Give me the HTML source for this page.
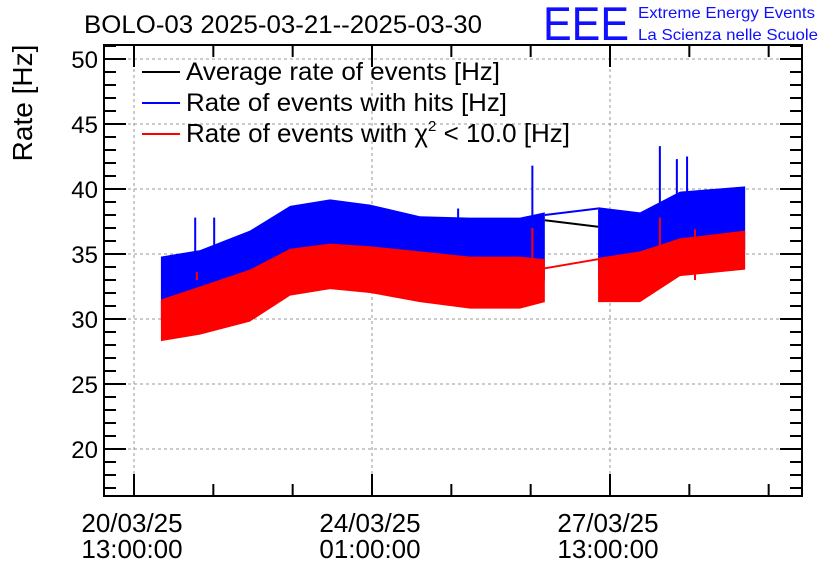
<!DOCTYPE html>
<html><head><meta charset="utf-8"><style>
body{margin:0;background:#fff;}
svg text{font-family:"Liberation Sans",sans-serif;}
</style></head><body>
<svg id="c" width="836" height="572" xmlns="http://www.w3.org/2000/svg">
<rect width="836" height="572" fill="#fff"/>
<text x="84" y="33" font-size="25" textLength="398" lengthAdjust="spacingAndGlyphs">BOLO-03 2025-03-21--2025-03-30</text>
<text x="543" y="40" font-size="47" fill="#1010ff" textLength="86" lengthAdjust="spacingAndGlyphs">EEE</text>
<text x="638" y="18" font-size="16" fill="#1010ff" textLength="177" lengthAdjust="spacingAndGlyphs">Extreme Energy Events</text>
<text x="638" y="40" font-size="16" fill="#1010ff" textLength="180" lengthAdjust="spacingAndGlyphs">La Scienza nelle Scuole</text>
<text transform="translate(32,103) rotate(-90)" text-anchor="middle" font-size="28">Rate [Hz]</text>
<g id="grid"></g><g id="data"></g><g id="axes"></g>
<g>
<line x1="142" y1="72" x2="180" y2="72" stroke="#000" stroke-width="2"/>
<text x="186" y="80" font-size="25" textLength="314" lengthAdjust="spacingAndGlyphs">Average rate of events [Hz]</text>
<line x1="142" y1="103" x2="180" y2="103" stroke="#00f" stroke-width="2"/>
<text x="186" y="111" font-size="25" textLength="321" lengthAdjust="spacingAndGlyphs">Rate of events with hits [Hz]</text>
<line x1="142" y1="134" x2="180" y2="134" stroke="#f00" stroke-width="2"/>
<text x="186" y="142" font-size="26">Rate of events with χ<tspan font-size="15" dy="-11">2</tspan><tspan dy="11"> &lt; 10.0 [Hz]</tspan></text>
</g>
</svg>
<script>
const hours=[9.5,23.3,40.9,55.1,69.2,83.3,100.9,118.6,136.2,145,163.8,178.6,192.7,215.7];
const blueTop=[34.8,35.3,36.8,38.7,39.2,38.8,37.9,37.8,37.8,38.2,38.6,38.2,39.8,40.2];
const redTop=[31.5,32.5,33.8,35.4,35.8,35.6,35.2,34.8,34.8,34.6,34.7,35.2,36.2,36.8];
const redBottom=[28.3,28.8,29.8,31.8,32.3,32.0,31.3,30.8,30.8,31.3,31.3,31.3,33.3,33.8];
const avgGap=[37.6,37.1];
const blueGap=[38.0,38.5];
const redGap=[33.9,34.6];
const blueSpikeH=[21.6,28.3,114.4,140.6,185.6,191.6,195.2];
const blueSpikeV=[37.8,37.8,38.5,41.8,43.3,42.3,42.5];
const redSpikeH=[22.2,140.6,185.6,198.0];
const redSpikeV=[33.6,37.0,37.8,36.9];
const yTicks=[20,25,30,35,40,45,50];
const xTickLabels=[["20/03/25","13:00:00"],["24/03/25","01:00:00"],["27/03/25","13:00:00"]];
const xMajorHours=[0,84,168];

const L=104,R=802,T=45,B=496;
const X=h=>134+h*238/84;
const Y=v=>449-(v-20)*13;
const NS="http://www.w3.org/2000/svg";
function mk(p,tag,at){const e=document.createElementNS(NS,tag);for(const k in at)e.setAttribute(k,at[k]);p.appendChild(e);return e;}
const grid=document.getElementById('grid'),data=document.getElementById('data'),axes=document.getElementById('axes');
yTicks.forEach(v=>{const l=mk(grid,'line',{x1:L,x2:R,y1:Y(v),y2:Y(v),stroke:'#999','stroke-dasharray':'3,3','stroke-width':1});

});
xMajorHours.forEach(h=>{const l=mk(grid,'line',{x1:X(h),x2:X(h),y1:T,y2:B,stroke:'#999','stroke-dasharray':'3,3','stroke-width':1});

});
function band(top,bot,i0,i1,col,name){let pts=[];for(let i=i0;i<=i1;i++)pts.push(X(hours[i])+','+Y(top[i]));for(let i=i1;i>=i0;i--)pts.push(X(hours[i])+','+Y(bot[i]));
const p=mk(data,'polygon',{points:pts.join(' '),fill:col});

}
const blueBot=redTop.map((v,i)=>(v+redBottom[i])/2);
const gi=9;
band(blueTop,blueBot,0,gi,'#0000ff','hits-band-1');band(blueTop,blueBot,gi+1,hours.length-1,'#0000ff','hits-band-2');
blueSpikeH.forEach((h,i)=>{const l=mk(data,'line',{x1:X(h),x2:X(h),y1:Y(blueSpikeV[i]),y2:Y(35),stroke:'#00f','stroke-width':2});

});
band(redTop,redBottom,0,gi,'#ff0000','chi2-band-1');band(redTop,redBottom,gi+1,hours.length-1,'#ff0000','chi2-band-2');
redSpikeH.forEach((h,i)=>{const l=mk(data,'line',{x1:X(h),x2:X(h),y1:Y(redSpikeV[i]),y2:Y(33),stroke:'#f00','stroke-width':2});

});
[[avgGap,'#000','average-gap-line'],[blueGap,'#00f','hits-gap-line'],[redGap,'#f00','chi2-gap-line']].forEach(([g,c,n])=>{
const l=mk(data,'line',{x1:X(hours[gi]),x2:X(hours[gi+1]),y1:Y(g[0]),y2:Y(g[1]),stroke:c,'stroke-width':2});

});
const fr=mk(axes,'rect',{x:L,y:T,width:R-L,height:B-T,fill:'none',stroke:'#000','stroke-width':2});


for(let v=17;v<=51;v++){const maj=v%5==0;const len=maj?22:12;
mk(axes,'line',{x1:L,x2:L+len,y1:Y(v),y2:Y(v),stroke:'#000','stroke-width':2});
mk(axes,'line',{x1:R,x2:R-len,y1:Y(v),y2:Y(v),stroke:'#000','stroke-width':2});}
yTicks.forEach(v=>{const t=mk(axes,'text',{x:98,y:Y(v)+9,'text-anchor':'end','font-size':24});t.textContent=v;

});
for(let h=0;h<=224;h+=28){const maj=h%84==0;const len=maj?22:12;
mk(axes,'line',{x1:X(h),x2:X(h),y1:B,y2:B-len,stroke:'#000','stroke-width':2});
mk(axes,'line',{x1:X(h),x2:X(h),y1:T,y2:T+len,stroke:'#000','stroke-width':2});}
xMajorHours.forEach((h,i)=>{[0,1].forEach(j=>{const t=mk(axes,'text',{x:X(h)-2,y:532+j*26,'text-anchor':'middle','font-size':26});t.textContent=xTickLabels[i][j];

});});
</script>
</body></html>
